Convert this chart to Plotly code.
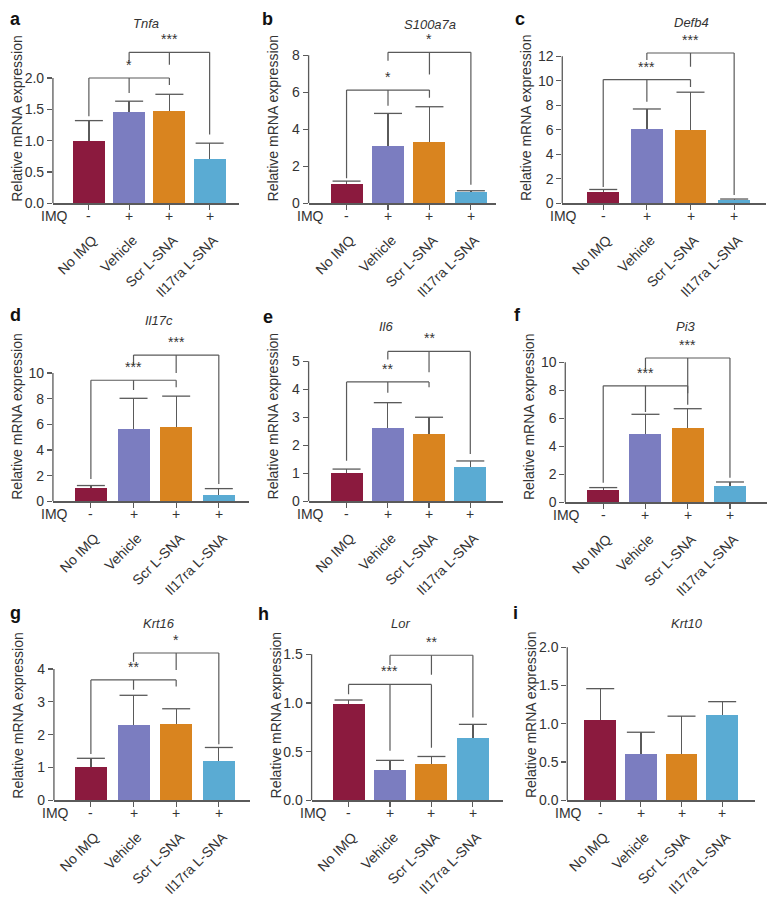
import plotly.graph_objects as go

W, H = 772, 905

# ---------------- data ----------------
CATEGORIES = ["No IMQ", "Vehicle", "Scr L-SNA", "Il17ra L-SNA"]
IMQ_SIGNS = ["-", "+", "+", "+"]
GENES = ["Tnfa", "S100a7a", "Defb4", "Il17c", "Il6", "Pi3", "Krt16", "Lor", "Krt10"]
LETTERS = ["a", "b", "c", "d", "e", "f", "g", "h", "i"]
Y_LABEL = "Relative mRNA expression"

TNFA_MEAN = [1.00, 1.46, 1.48, 0.70]
TNFA_SD = [0.32, 0.17, 0.26, 0.26]
S100A7A_MEAN = [1.02, 3.10, 3.32, 0.62]
S100A7A_SD = [0.18, 1.76, 1.90, 0.06]
DEFB4_MEAN = [0.95, 6.09, 6.00, 0.25]
DEFB4_SD = [0.18, 1.61, 3.07, 0.10]
IL17C_MEAN = [1.02, 5.60, 5.77, 0.52]
IL17C_SD = [0.21, 2.43, 2.43, 0.47]
IL6_MEAN = [1.00, 2.63, 2.40, 1.23]
IL6_SD = [0.15, 0.89, 0.60, 0.21]
PI3_MEAN = [0.89, 4.85, 5.33, 1.17]
PI3_SD = [0.16, 1.43, 1.35, 0.28]
KRT16_MEAN = [1.00, 2.28, 2.33, 1.21]
KRT16_SD = [0.28, 0.92, 0.46, 0.40]
LOR_MEAN = [0.99, 0.31, 0.37, 0.64]
LOR_SD = [0.04, 0.10, 0.08, 0.14]
KRT10_MEAN = [1.05, 0.60, 0.60, 1.11]
KRT10_SD = [0.41, 0.29, 0.50, 0.18]

TNFA_TICKS = [0, 0.5, 1.0, 1.5, 2.0]
S100A7A_TICKS = [0, 2, 4, 6, 8]
DEFB4_TICKS = [0, 2, 4, 6, 8, 10, 12]
IL17C_TICKS = [0, 2, 4, 6, 8, 10]
IL6_TICKS = [0, 1, 2, 3, 4, 5]
PI3_TICKS = [0, 2, 4, 6, 8, 10]
KRT16_TICKS = [0, 1, 2, 3, 4]
LOR_TICKS = [0, 0.5, 1.0, 1.5]
KRT10_TICKS = [0, 0.5, 1.0, 1.5, 2.0]
TICK_FORMATS = [".1f", "d", "d", "d", "d", "d", "d", ".1f", ".1f"]

# significance brackets: (height, left leg end, middle stem end, right leg end, label)
# bracket 1 spans No IMQ -> Scr L-SNA (stem at Vehicle); bracket 2 spans Vehicle -> Il17ra L-SNA (stem at Scr L-SNA)
TNFA_SIG = [(2.00, 1.39, 1.76, 1.89, "*"), (2.41, 2.26, 2.21, 1.10, "***")]
S100A7A_SIG = [(6.12, 1.35, 5.27, 5.70, "*"), (8.16, 7.70, 6.96, 1.00, "*")]
DEFB4_SIG = [(10.1, 1.34, 8.30, 9.50, "***"), (12.27, 11.7, 11.14, 0.67, "***")]
IL17C_SIG = [(9.44, 1.74, 8.67, 8.90, "***"), (11.4, 10.7, 10.0, 1.36, "***")]
IL6_SIG = [(4.26, 1.45, 3.87, 4.07, "**"), (5.35, 5.06, 4.61, 1.69, "**")]
PI3_SIG = [(8.31, 1.40, 6.44, 7.78, "***"), (10.3, 9.48, 6.96, 1.76, "***")]
KRT16_SIG = [(3.67, 1.41, 3.37, 3.47, "**"), (4.49, 4.22, 3.97, 1.71, "*")]
LOR_SIG = [(1.19, 1.09, 0.51, 0.54, "***"), (1.49, 1.39, 1.29, 0.85, "**")]
KRT10_SIG = []

MEANS = [TNFA_MEAN, S100A7A_MEAN, DEFB4_MEAN, IL17C_MEAN, IL6_MEAN, PI3_MEAN, KRT16_MEAN, LOR_MEAN, KRT10_MEAN]
SDS = [TNFA_SD, S100A7A_SD, DEFB4_SD, IL17C_SD, IL6_SD, PI3_SD, KRT16_SD, LOR_SD, KRT10_SD]
TICKS = [TNFA_TICKS, S100A7A_TICKS, DEFB4_TICKS, IL17C_TICKS, IL6_TICKS, PI3_TICKS, KRT16_TICKS, LOR_TICKS, KRT10_TICKS]
SIGS = [TNFA_SIG, S100A7A_SIG, DEFB4_SIG, IL17C_SIG, IL6_SIG, PI3_SIG, KRT16_SIG, LOR_SIG, KRT10_SIG]

# ---------------- style / layout ----------------
COLORS = ["#8B1A3E", "#7B7DC0", "#D9841F", "#5AABD3"]
AXIS_COLOR = "#5a5a5a"
TEXT_COLOR = "#333333"
FONT = "Liberation Sans, Arial, sans-serif"
FS = 14

# spine_px, right_px, zero_px, top_tick_px, first_bar_offset_px, bar_spacing_px
GEOM = [
    (52, 238, 202, 75, 36, 40.3),
    (308, 496, 202, 52, 38, 41.5),
    (562, 766, 202, 53, 41, 43.7),
    (52, 248, 504, 374, 38, 42.7),
    (308, 503, 504, 362, 38, 41.3),
    (565, 767, 505, 363, 38, 42.3),
    (53, 249, 807, 674, 37, 42.7),
    (311, 503, 807, 659, 37, 41.5),
    (567, 755, 807, 652, 33, 40.7),
]
ROW_TOP = [40, 345, 648]
TITLE_POS = [(145, 20), (430, 21), (691, 19), (158, 321), (386, 327), (686, 327), (158, 628), (400, 628), (687, 628)]
LETTER_POS = [(15, 15), (267, 15), (520, 15), (15, 315), (267, 317), (517, 315), (15, 617), (263, 618), (515, 617)]
BAR_PX = 32

fig = go.Figure()
shapes = []
annotations = []
layout_axes = {}

for k in range(9):
    n = k + 1
    xa = "x" if n == 1 else f"x{n}"
    ya = "y" if n == 1 else f"y{n}"
    spine, right, zero, toptick_px, off, sp = GEOM[k]
    ticks = TICKS[k]
    top_val = ticks[-1]
    ppu = (zero - toptick_px) / top_val
    ymax = (zero - ROW_TOP[k // 3]) / ppu
    xmin = -off / sp
    xmax = xmin + (right - spine) / sp
    xs = list(range(len(CATEGORIES)))
    means, sds = MEANS[k], SDS[k]

    # bars with upward error stems
    fig.add_trace(go.Bar(
        x=xs, y=means, width=BAR_PX / sp, marker=dict(color=COLORS, line=dict(width=0)),
        error_y=dict(type="data", array=sds, arrayminus=[0] * 4, symmetric=False,
                     color=AXIS_COLOR, thickness=1.3, width=0),
        xaxis=xa, yaxis=ya, showlegend=False, hoverinfo="skip"))
    # error-bar caps at mean + sd
    fig.add_trace(go.Scatter(
        x=xs, y=[m + s for m, s in zip(means, sds)], mode="markers",
        marker=dict(symbol="line-ew", size=20, line=dict(color=AXIS_COLOR, width=1.3)),
        xaxis=xa, yaxis=ya, showlegend=False, hoverinfo="skip", cliponaxis=False))

    fmt = TICK_FORMATS[k]
    ticktext = [format(t, fmt) if fmt != "d" else str(int(t)) for t in ticks]

    layout_axes["xaxis" if n == 1 else f"xaxis{n}"] = dict(
        domain=[spine / W, right / W], range=[xmin, xmax], anchor=ya,
        tickmode="array", tickvals=xs, ticktext=CATEGORIES, tickangle=-45,
        ticks="outside", ticklen=5, tickwidth=1.2, tickcolor=AXIS_COLOR,
        showline=True, linecolor=AXIS_COLOR, linewidth=1.3,
        showgrid=False, zeroline=False, fixedrange=True,
        ticklabelstandoff=17, ticklabelshift=4,
        tickfont=dict(size=FS, color=TEXT_COLOR, family=FONT))
    layout_axes["yaxis" if n == 1 else f"yaxis{n}"] = dict(
        domain=[1 - zero / H, 1 - ROW_TOP[k // 3] / H], range=[0, ymax], anchor=xa,
        tickmode="array", tickvals=ticks, ticktext=ticktext,
        ticks="outside", ticklen=5, tickwidth=1.2, tickcolor=AXIS_COLOR,
        showline=False, showgrid=False, zeroline=False, fixedrange=True,
        tickfont=dict(size=FS, color=TEXT_COLOR, family=FONT))

    # y spine only up to top tick
    shapes.append(dict(type="line", xref=f"{xa} domain", yref=ya, x0=0, x1=0, y0=0, y1=top_val,
                       line=dict(color=AXIS_COLOR, width=1.3)))

    # significance brackets
    for b, (h, lleg, mstem, rleg, lab) in enumerate(SIGS[k]):
        i0, i1, im = b, b + 2, b + 1
        segs = [((i0, h), (i1, h)), ((i0, h), (i0, lleg)), ((im, h), (im, mstem)), ((i1, h), (i1, rleg))]
        for (x0, y0), (x1, y1) in segs:
            shapes.append(dict(type="line", xref=xa, yref=ya, x0=x0, x1=x1, y0=y0, y1=y1,
                               line=dict(color=AXIS_COLOR, width=1.2)))
        annotations.append(dict(x=im, y=h, xref=xa, yref=ya, text=lab, showarrow=False,
                                xanchor="center", yanchor="bottom", yshift=3,
                                font=dict(size=FS, color=TEXT_COLOR, family=FONT)))

    # IMQ row
    annotations.append(dict(x=0, y=0, xref=f"{xa} domain", yref=ya, text="IMQ", showarrow=False,
                            xanchor="right", yanchor="middle", xshift=17, yshift=-13,
                            font=dict(size=FS, color=TEXT_COLOR, family=FONT)))
    for i, s in enumerate(IMQ_SIGNS):
        annotations.append(dict(x=i, y=0, xref=xa, yref=ya, text=s, showarrow=False,
                                xanchor="center", yanchor="middle", yshift=-13,
                                font=dict(size=FS, color=TEXT_COLOR, family=FONT)))

    # y label
    annotations.append(dict(x=0, y=0, xref=f"{xa} domain", yref=ya, text=Y_LABEL, showarrow=False,
                            textangle=-90, xanchor="center", yanchor="bottom", xshift=-36,
                            font=dict(size=FS, color=TEXT_COLOR, family=FONT)))

    # gene title
    tx, ty = TITLE_POS[k]
    annotations.append(dict(x=tx / W, y=1 - ty / H, xref="paper", yref="paper",
                            text=f"<i>{GENES[k]}</i>", showarrow=False,
                            xanchor="center", yanchor="middle",
                            font=dict(size=13, color=TEXT_COLOR, family=FONT)))
    # panel letter
    lx, ly = LETTER_POS[k]
    annotations.append(dict(x=lx / W, y=1 - ly / H, xref="paper", yref="paper",
                            text=f"<b>{LETTERS[k]}</b>", showarrow=False,
                            xanchor="center", yanchor="middle",
                            font=dict(size=18, color="#111111", family=FONT)))

fig.update_layout(
    width=W, height=H, margin=dict(l=0, r=0, t=0, b=0),
    paper_bgcolor="white", plot_bgcolor="white",
    barmode="overlay", bargap=0, showlegend=False,
    font=dict(family=FONT, color=TEXT_COLOR),
    shapes=shapes, annotations=annotations,
    **layout_axes)

fig.write_html("out.html", config={"displayModeBar": False, "staticPlot": True},
               post_script="document.body.style.margin='0';")
